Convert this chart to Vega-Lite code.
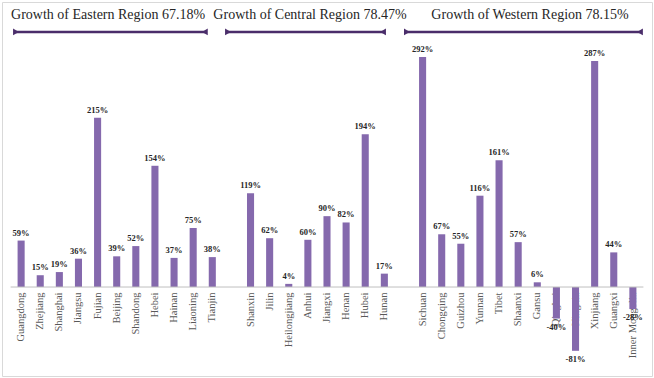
{
  "$schema": "https://vega.github.io/schema/vega-lite/v6.json",
  "autosize": "none",
  "width": 650,
  "height": 374,
  "padding": {"left": 2, "top": 2, "right": 2, "bottom": 2},
  "background": "white",
  "config": {"view": {"stroke": "#d9d9d9", "strokeWidth": 1}},
  "datasets": {
    "bars": [
      {"province": "Guangdong", "growth": 59, "label": "59%"},
      {"province": "Zhejiang", "growth": 15, "label": "15%"},
      {"province": "Shanghai", "growth": 19, "label": "19%"},
      {"province": "Jiangsu", "growth": 36, "label": "36%"},
      {"province": "Fujian", "growth": 215, "label": "215%"},
      {"province": "Beijing", "growth": 39, "label": "39%"},
      {"province": "Shandong", "growth": 52, "label": "52%"},
      {"province": "Hebei", "growth": 154, "label": "154%"},
      {"province": "Hainan", "growth": 37, "label": "37%"},
      {"province": "Liaoning", "growth": 75, "label": "75%"},
      {"province": "Tianjin", "growth": 38, "label": "38%"},
      {"province": "Shanxin", "growth": 119, "label": "119%"},
      {"province": "Jilin", "growth": 62, "label": "62%"},
      {"province": "Heilongjiang", "growth": 4, "label": "4%"},
      {"province": "Anhui", "growth": 60, "label": "60%"},
      {"province": "Jiangxi", "growth": 90, "label": "90%"},
      {"province": "Henan", "growth": 82, "label": "82%"},
      {"province": "Hubei", "growth": 194, "label": "194%"},
      {"province": "Hunan", "growth": 17, "label": "17%"},
      {"province": "Sichuan", "growth": 292, "label": "292%"},
      {"province": "Chongqing", "growth": 67, "label": "67%"},
      {"province": "Guizhou", "growth": 55, "label": "55%"},
      {"province": "Yunnan", "growth": 116, "label": "116%"},
      {"province": "Tibet", "growth": 161, "label": "161%"},
      {"province": "Shaanxi", "growth": 57, "label": "57%"},
      {"province": "Gansu", "growth": 6, "label": "6%"},
      {"province": "Qinghai", "growth": -40, "label": "-40%"},
      {"province": "Ningxia", "growth": -81, "label": "-81%"},
      {"province": "Xinjiang", "growth": 287, "label": "287%"},
      {"province": "Guangxi", "growth": 44, "label": "44%"},
      {"province": "Inner Mongolia", "growth": -28, "label": "-28%"}
    ],
    "groups": [
      {"region": "Growth of Eastern Region 67.18%", "start": -0.27, "end": 9.61, "mid": 4.55},
      {"region": "Growth of Central Region 78.47%", "start": 10.82, "end": 18.93, "mid": 15.11},
      {"region": "Growth of Western Region 78.15%", "start": 20.18, "end": 32.37, "mid": 26.62}
    ],
    "baseline": [
      {"from": -0.55, "to": 32.55, "level": 0}
    ]
  },
  "layer": [
    {
      "data": {"name": "bars"},
      "encoding": {
        "x": {
          "field": "province",
          "type": "nominal",
          "sort": null,
          "scale": {
            "domain": ["Guangdong", "Zhejiang", "Shanghai", "Jiangsu", "Fujian", "Beijing", "Shandong", "Hebei", "Hainan", "Liaoning", "Tianjin", "_g1", "Shanxin", "Jilin", "Heilongjiang", "Anhui", "Jiangxi", "Henan", "Hubei", "Hunan", "_g2", "Sichuan", "Chongqing", "Guizhou", "Yunnan", "Tibet", "Shaanxi", "Gansu", "Qinghai", "Ningxia", "Xinjiang", "Guangxi", "Inner Mongolia"],
            "paddingInner": 0.63,
            "paddingOuter": 0.815
          },
          "axis": {
            "title": null,
            "offset": -89,
            "domain": false,
            "ticks": false,
            "labelAngle": -90,
            "labelPadding": 5,
            "labelFont": "Liberation Serif",
            "labelFontSize": 10.5,
            "labelColor": "#595959",
            "labelOverlap": false,
            "labelExpr": "indexof(datum.label, '_g') == 0 ? '' : datum.label"
          }
        },
        "y": {
          "field": "growth",
          "type": "quantitative",
          "scale": {"domain": [-113, 362], "nice": false, "zero": false},
          "axis": null
        }
      },
      "layer": [
        {"mark": {"type": "bar", "color": "#8569ad"}},
        {
          "transform": [{"filter": "datum.growth >= 0"}],
          "mark": {"type": "text", "baseline": "bottom", "dy": -3, "font": "Liberation Serif", "fontWeight": "bold", "fontSize": 8.5, "color": "#262626"},
          "encoding": {"text": {"field": "label"}}
        },
        {
          "transform": [{"filter": "datum.growth < 0"}],
          "mark": {"type": "text", "baseline": "top", "dy": 4, "font": "Liberation Serif", "fontWeight": "bold", "fontSize": 8.5, "color": "#262626"},
          "encoding": {"text": {"field": "label"}}
        }
      ]
    },
    {
      "layer": [
        {
          "data": {"name": "baseline"},
          "mark": {"type": "rule", "color": "#bfbfbf", "strokeWidth": 1},
          "encoding": {
            "x": {"field": "from", "type": "quantitative", "scale": {"domain": [-1, 33], "nice": false, "zero": false}, "axis": null},
            "x2": {"field": "to"},
            "y": {"datum": 0, "type": "quantitative"}
          }
        },
        {
          "data": {"name": "groups"},
          "encoding": {
            "y": {"datum": 324, "type": "quantitative"}
          },
          "layer": [
            {
              "mark": {"type": "rule", "color": "#4a2d6a", "strokeWidth": 2.5},
              "encoding": {
                "x": {"field": "start", "type": "quantitative", "scale": {"domain": [-1, 33], "nice": false, "zero": false}, "axis": null},
                "x2": {"field": "end"}
              }
            },
            {
              "mark": {"type": "point", "shape": "triangle-right", "filled": true, "color": "#4a2d6a", "size": 45, "opacity": 1, "dx": 0},
              "encoding": {
                "x": {"field": "start", "type": "quantitative"}
              }
            },
            {
              "mark": {"type": "point", "shape": "triangle-left", "filled": true, "color": "#4a2d6a", "size": 45, "opacity": 1},
              "encoding": {
                "x": {"field": "end", "type": "quantitative"}
              }
            }
          ]
        },
        {
          "data": {"name": "groups"},
          "mark": {"type": "text", "font": "Liberation Serif", "fontSize": 14, "color": "#262626", "baseline": "middle", "align": "center"},
          "encoding": {
            "x": {"field": "mid", "type": "quantitative"},
            "y": {"datum": 345, "type": "quantitative"},
            "text": {"field": "region"}
          }
        }
      ]
    }
  ],
  "resolve": {"scale": {"x": "independent"}, "axis": {"x": "independent"}}
}
